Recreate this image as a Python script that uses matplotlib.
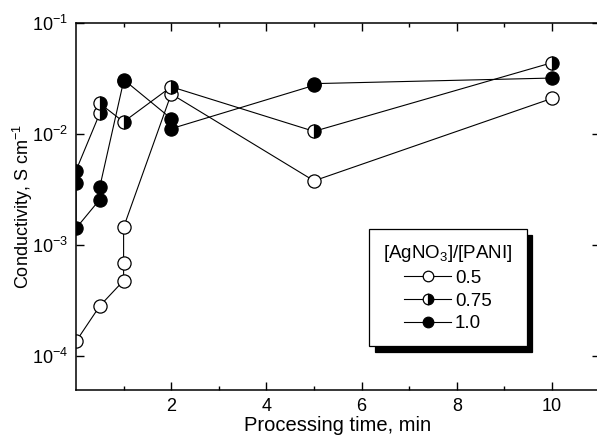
import matplotlib
matplotlib.use("Agg")
import matplotlib.pyplot as plt
from matplotlib.ticker import FixedLocator, NullFormatter

plt.rcParams['font.family'] = ['Liberation Sans', 'DejaVu Sans']
plt.rcParams['mathtext.fontset'] = 'custom'
plt.rcParams['mathtext.rm'] = 'Liberation Sans'
plt.rcParams['mathtext.it'] = 'Liberation Sans:italic'

# conductivity (S/cm) vs processing time (min) for three [AgNO3]/[PANI] ratios
time_05 = [0, 0.5, 1, 1, 1, 2, 5, 10]
cond_05 = [1.36e-4, 2.84e-4, 4.8e-4, 6.9e-4, 1.45e-3, 2.3e-2, 3.8e-3, 2.1e-2]

time_075 = [0, 0.5, 0.5, 1, 2, 5, 10]
cond_075 = [4.7e-3, 1.54e-2, 1.89e-2, 1.29e-2, 2.67e-2, 1.06e-2, 4.4e-2]

time_10 = [0, 0, 0.5, 0.5, 1, 1, 2, 2, 5, 5, 10]
cond_10 = [3.6e-3, 1.42e-3, 2.58e-3, 3.35e-3, 3.0e-2, 3.1e-2, 1.38e-2, 1.12e-2, 2.75e-2, 2.85e-2, 3.2e-2]

labels = ["0.5", "0.75", "1.0"]

fig = plt.figure(figsize=(5.97, 4.44), dpi=100)
ax = fig.add_axes([0.1273, 0.1225, 0.8771, 0.8255])

ms = 9.5
common = dict(color='black', lw=0.8, markersize=ms, markeredgewidth=0.9, clip_on=True)
ax.plot(time_05, cond_05, marker='o', markerfacecolor='white', label=labels[0], **common)
ax.plot(time_075, cond_075, marker='o', fillstyle='right', markerfacecolor='black',
        markerfacecoloralt='white', label=labels[1], **common)
ax.plot(time_10, cond_10, marker='o', markerfacecolor='black', label=labels[2], **common)

ax.set_yscale('log')
ax.set_xlim(0, 11)
ax.set_ylim(10 ** -4.3, 1e-1)

ax.xaxis.set_major_locator(FixedLocator([2, 4, 6, 8, 10]))
ax.xaxis.set_minor_locator(FixedLocator([1, 3, 5, 7, 9]))
ax.yaxis.set_major_locator(FixedLocator([1e-4, 1e-3, 1e-2, 1e-1]))
ax.yaxis.set_minor_locator(FixedLocator([]))
ax.yaxis.set_minor_formatter(NullFormatter())
ax.set_yticklabels([r'$\mathregular{10^{-4}}$', r'$\mathregular{10^{-3}}$',
                    r'$\mathregular{10^{-2}}$', r'$\mathregular{10^{-1}}$'])

ax.tick_params(which='both', direction='in', top=True, right=True, labelsize=13, width=1)
ax.tick_params(which='major', length=6)
ax.tick_params(which='minor', length=3)
ax.tick_params(axis='x', pad=6)
ax.tick_params(axis='y', pad=6)
for s in ax.spines.values():
    s.set_linewidth(1.1)

ax.set_xlabel("Processing time, min", fontsize=14.5, labelpad=1)
ax.set_ylabel(r"Conductivity, S cm$^{\mathregular{-1}}$", fontsize=13)
ax.yaxis.set_label_coords(-0.078, 0.5)

leg = ax.legend(title=r"[AgNO$_\mathregular{3}$]/[PANI]", loc='upper left',
                bbox_to_anchor=(0.5596, 0.438), borderaxespad=0, fontsize=13.5,
                title_fontsize=13.5, handlelength=2.5, handletextpad=0.2,
                fancybox=False, edgecolor='black', framealpha=1, markerscale=0.8,
                shadow={'color': 'black', 'alpha': 1, 'ox': 4, 'oy': -4},
                borderpad=0.75, labelspacing=0.3, alignment='center')
leg.get_frame().set_linewidth(0.9)

fig.savefig("out.png", dpi=100)
